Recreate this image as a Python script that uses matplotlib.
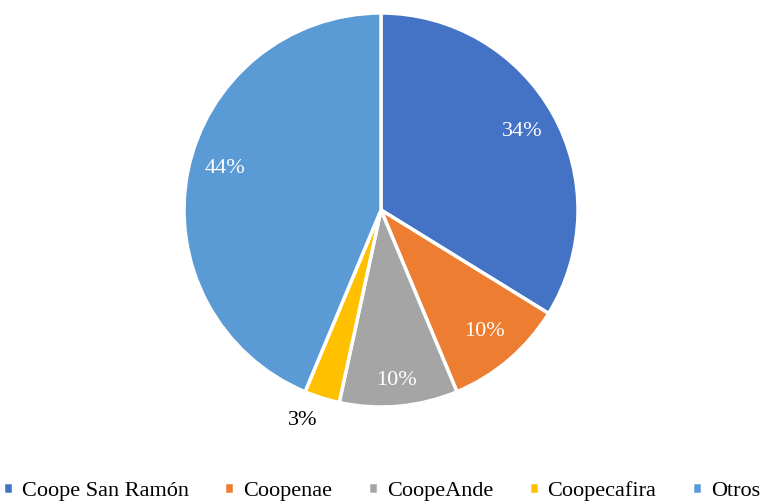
import matplotlib.pyplot as plt
import matplotlib as mpl
import numpy as np

mpl.rcParams["font.family"] = ["Liberation Serif", "DejaVu Serif"]

labels = ["Coope San Ramón", "Coopenae", "CoopeAnde", "Coopecafira", "Otros"]
values = [33.8, 9.9, 9.7, 2.9, 43.7]
pct_text = ["34%", "10%", "10%", "3%", "44%"]
colors = ["#4472C4", "#ED7D31", "#A5A5A5", "#FFC000", "#5B9BD5"]

W, H = 763, 503
fig = plt.figure(figsize=(W / 100, H / 100), dpi=100)
cx, cy, r = 381, 210, 197
ax = fig.add_axes([(cx - r) / W, (H - cy - r) / H, 2 * r / W, 2 * r / H])

wedges, _ = ax.pie(
    values,
    colors=colors,
    startangle=90,
    counterclock=False,
    radius=1,
    wedgeprops={"edgecolor": "white", "linewidth": 2.5},
)

# label placement (distance from centre, angle tweak in degrees)
label_pos = [(0.82, 0), (0.81, 0), (0.87, 0), (1.14, -3), (0.82, -3.5)]
for i, w in enumerate(wedges):
    d, dang = label_pos[i]
    ang = np.deg2rad((w.theta1 + w.theta2) / 2 + dang)
    col = "black" if d > 1 else "white"
    ax.text(d * np.cos(ang), d * np.sin(ang), pct_text[i], ha="center",
            va="center", color=col, fontsize=16)

ax.set_xlim(-1, 1)
ax.set_ylim(-1, 1)
ax.set_aspect("equal")
ax.axis("off")

fig.legend(
    wedges, labels,
    loc="center", bbox_to_anchor=(0.5, 1 - 491 / H),
    ncol=5, frameon=False, fontsize=16,
    handlelength=0.45, handleheight=0.45, handletextpad=0.4,
    columnspacing=1.6,
)

plt.savefig("out.png", dpi=100)
plt.close()
